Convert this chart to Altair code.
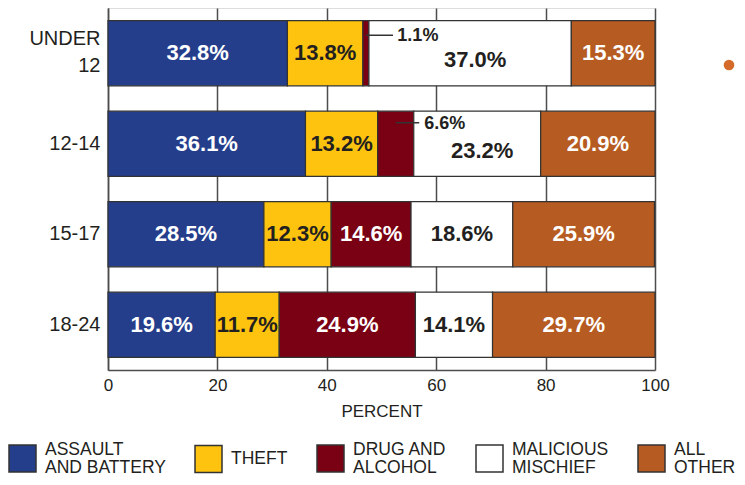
import altair as alt
import pandas as pd

# ---- data ----
ages = ["UNDER 12", "12-14", "15-17", "18-24"]
categories = ["ASSAULT\nAND BATTERY", "THEFT", "DRUG AND\nALCOHOL", "MALICIOUS\nMISCHIEF", "ALL\nOTHER"]
assault = [32.8, 36.1, 28.5, 19.6]
theft = [13.8, 13.2, 12.3, 11.7]
drug = [1.1, 6.6, 14.6, 24.9]
mischief = [37.0, 23.2, 18.6, 14.1]
other = [15.3, 20.9, 25.9, 29.7]
x_ticks = [0, 20, 40, 60, 80, 100]

# ---- styling ----
colors = ["#253e8c", "#fdc30f", "#7a0013", "#ffffff", "#b65b21"]
label_colors = ["#ffffff", "#231f20", "#ffffff", "#231f20", "#ffffff"]
FONT = "Liberation Sans"
LINE = "#4d4d4d"
# call-outs for the thin drug segments: (leader extends past segment end, gap to text, vertical px offset)
callouts = {"UNDER 12": (4.4, 0.8, -18), "12-14": (1.0, 0.9, -21)}

series = [assault, theft, drug, mischief, other]
rows = []
for i, age in enumerate(ages):
    start = 0.0
    for j, cat in enumerate(categories):
        v = series[j][i]
        rows.append(dict(age=age, cat=cat, order=j, value=v, start=start, end=start + v,
                         mid=start + v / 2, label=f"{v:.1f}%", tcolor=label_colors[j],
                         callout=age in callouts))
        start += v
df = pd.DataFrame(rows)

drug_name = categories[2]
mis_name = categories[3]
inner = df[~((df["cat"] == drug_name) & df["callout"]) & ~((df["cat"] == mis_name) & df["callout"])]
shifted = df[(df["cat"] == mis_name) & df["callout"]]

yscale = alt.Scale(paddingInner=0.28, paddingOuter=0.14)
ydef = alt.Y("age:N", sort=ages, scale=yscale,
             axis=alt.Axis(title=None, ticks=False, labelPadding=8, labelFontSize=20,
                           labelFont=FONT, labelColor="#231f20", labelLineHeight=27,
                           labelExpr="split(datum.label, ' ')",
                           labelOffset={"condition": {"test": "indexof(datum.label, ' ') >= 0",
                                                      "value": -14}, "value": 0},
                           domainColor=LINE, domainWidth=1.5))

bars = alt.Chart(df).mark_bar(stroke="#333333", strokeWidth=1.2).encode(
    x=alt.X("start:Q", scale=alt.Scale(domain=[0, 100], nice=False),
            axis=alt.Axis(values=x_ticks, title="PERCENT", grid=True, gridColor=LINE,
                          gridWidth=1.5, ticks=False, labelPadding=7, labelFontSize=17,
                          labelFlush=False,
                          labelFont=FONT, labelColor="#231f20", titleFont=FONT,
                          titleFontSize=17, titleFontWeight="normal", titleColor="#231f20",
                          titlePadding=10, domainColor=LINE, domainWidth=1.5)),
    x2="end:Q",
    y=ydef,
    color=alt.Color("cat:N", scale=alt.Scale(domain=categories, range=colors),
                    legend=alt.Legend(orient="none", legendX=-100, legendY=436,
                                      direction="horizontal", columns=5, title=None,
                                      symbolType="square", symbolSize=729,
                                      symbolStrokeColor="#333333", symbolStrokeWidth=1.5,
                                      symbolOpacity=1, labelFontSize=17.5,
                                      labelFont=FONT, labelColor="#231f20", labelOffset=8,
                                      labelBaseline={"expr": "indexof(datum.value, '\\n') >= 0 ? 'line-bottom' : 'middle'"},
                                      columnPadding=26, labelLimit=300,
                                      labelExpr="split(datum.label, '\\n')")),
)

txt = alt.Chart(inner).mark_text(font=FONT, fontSize=22, fontWeight="bold").encode(
    x="mid:Q", y=ydef, text="label:N", color=alt.Color("tcolor:N", scale=None))

txt_shift = alt.Chart(shifted).mark_text(font=FONT, fontSize=22, fontWeight="bold",
                                         dy=7, dx=5).encode(
    x="mid:Q", y=ydef, text="label:N", color=alt.Color("tcolor:N", scale=None))

layers = [bars, txt, txt_shift]
drug_rows = df[(df["cat"] == drug_name) & df["callout"]]
for _, r in drug_rows.iterrows():
    ext, gap, off = callouts[r["age"]]
    one = pd.DataFrame([dict(age=r["age"], x1=r["mid"], x2=r["end"] + ext,
                             xl=r["end"] + ext + gap, label=r["label"])])
    layers.append(alt.Chart(one).mark_rule(color="#333333", strokeWidth=1.5, yOffset=off).encode(
        x="x1:Q", x2="x2:Q", y=ydef))
    layers.append(alt.Chart(one).mark_text(font=FONT, fontSize=18, fontWeight="bold",
                                           align="left", dy=off + 1, color="#231f20").encode(
        x="xl:Q", y=ydef, text="label:N"))

dot = alt.Chart(pd.DataFrame({"k": [0]})).mark_circle(size=113, color="#d56b2a", opacity=1).encode(
    x=alt.value(621), y=alt.value(57))
layers.append(dot)

chart = alt.layer(*layers).properties(
    width=547, height=362,
    autosize=alt.AutoSizeParams(type="none"),
    padding={"left": 100, "top": 0, "right": 82, "bottom": 106},
).configure_view(stroke=LINE, strokeWidth=1.5).configure(
    background="white", style={"guide-label": {"lineHeight": 18}})

chart.save("out.html", embed_options={"renderer": "svg", "actions": False})
